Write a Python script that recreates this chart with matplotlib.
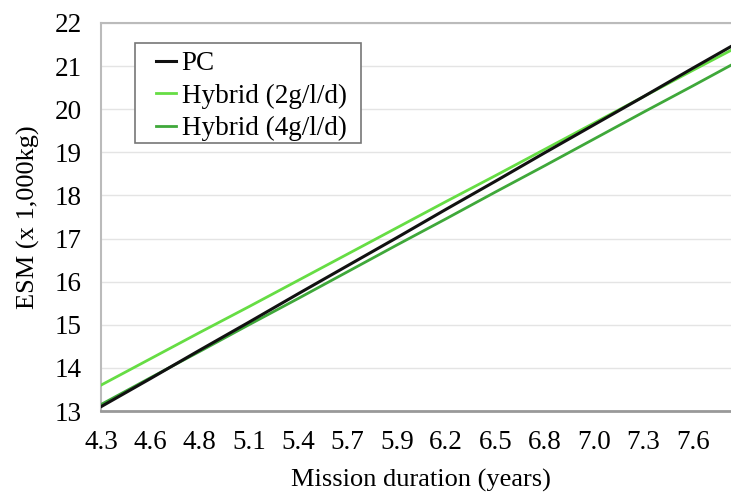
import numpy as np
import matplotlib as mpl
import matplotlib.pyplot as plt
from matplotlib.patches import Rectangle

mpl.rcParams.update({
    "font.family": ["Liberation Serif", "DejaVu Serif"],
    "font.size": 19,
})

# category axis (years); last category lies past the cropped right edge
x_labels = ["4.3", "4.6", "4.8", "5.1", "5.4", "5.7", "5.9",
            "6.2", "6.5", "6.8", "7.0", "7.3", "7.6", "7.9"]

pc = [13.10, 13.75, 14.41, 15.06, 15.72, 16.37, 17.02,
      17.68, 18.33, 18.99, 19.64, 20.29, 20.95, 21.60]
hybrid_2g = [13.60, 14.21, 14.82, 15.42, 16.03, 16.64, 17.25,
             17.86, 18.46, 19.07, 19.68, 20.29, 20.90, 21.50]
hybrid_4g = [13.15, 13.77, 14.38, 15.00, 15.61, 16.23, 16.85,
             17.46, 18.08, 18.69, 19.31, 19.93, 20.54, 21.16]

W, H = 731, 493
fig = plt.figure(figsize=(W / 100, H / 100), dpi=100)
ax = fig.add_axes([101 / W, 1 - 411 / H, 640 / W, 388 / H])

xs = np.arange(len(x_labels))
ax.plot(xs, pc, color="#111111", lw=2.2, label="PC", zorder=4)
ax.plot(xs, hybrid_2g, color="#66DD44", lw=2.0, label="Hybrid (2g/l/d)", zorder=3)
ax.plot(xs, hybrid_4g, color="#3FA83A", lw=2.0, label="Hybrid (4g/l/d)", zorder=3)

ax.set_xlim(0, 12.98)
ax.set_ylim(13, 22)
ax.set_xticks(xs[:13])
ax.set_xticklabels(x_labels[:13])
ax.set_yticks(np.arange(13, 23, 1))
ax.tick_params(axis="x", length=0, pad=14, labelsize=19.5)
ax.tick_params(axis="y", length=0, pad=14, labelsize=19.5)
ax.yaxis.grid(True, color="#E4E4E4", lw=1.0)
ax.set_axisbelow(True)

for side in ["top", "left", "right"]:
    ax.spines[side].set_color("#BBBBBB")
    ax.spines[side].set_linewidth(1.5)
ax.spines["bottom"].set_color("#999999")
ax.spines["bottom"].set_linewidth(2.0)

ax.set_xlabel("Mission duration (years)", fontsize=19, labelpad=10)
ax.set_ylabel("ESM (x 1,000kg)", fontsize=19, labelpad=10)

# legend frame drawn by hand so its padding matches
ax.add_patch(Rectangle((135 / W, 1 - 143 / H), 226 / W, 100 / H,
                       transform=fig.transFigure, facecolor="white",
                       edgecolor="#777777", lw=1.2, zorder=5, clip_on=False))
leg = ax.legend(loc="upper left", bbox_to_anchor=(156 / W, 1 - 51 / H),
                bbox_transform=fig.transFigure, frameon=False, fontsize=19.5,
                handlelength=0.75, handletextpad=0.2, labelspacing=0.28,
                borderpad=0, borderaxespad=0)
leg.set_zorder(6)

fig.savefig("out.png", dpi=100)
